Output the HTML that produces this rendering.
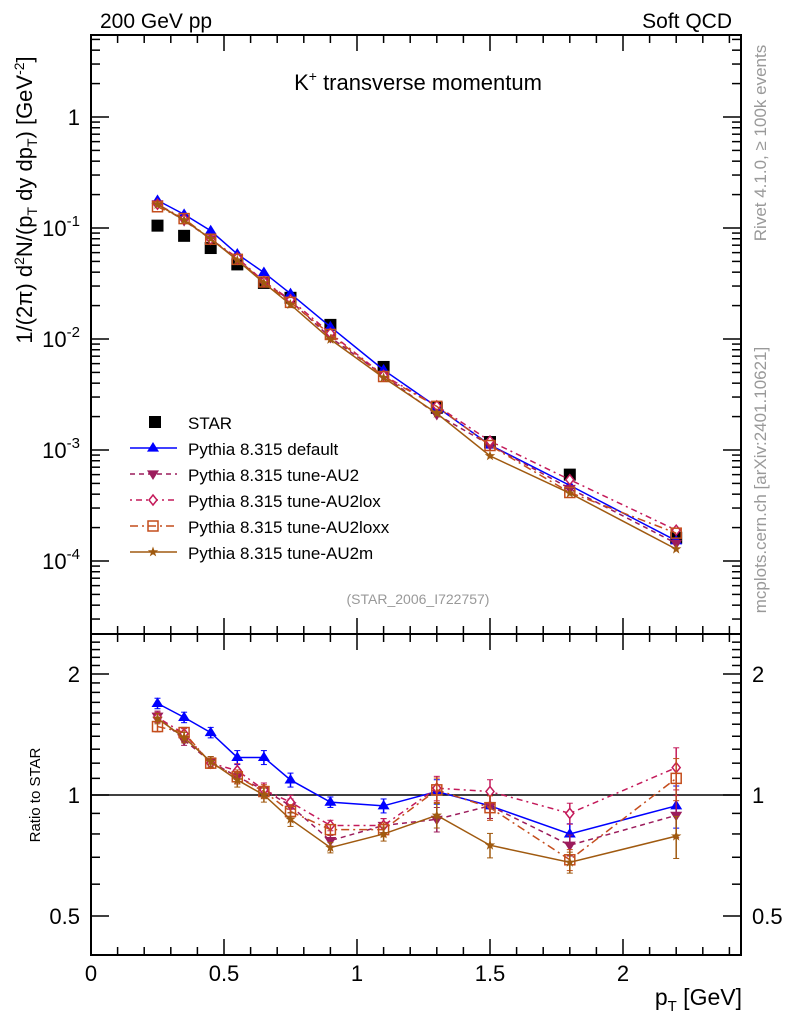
<!DOCTYPE html>
<html><head><meta charset="utf-8"><style>
html,body{margin:0;padding:0;background:#fff}
svg{display:block;font-family:"Liberation Sans",sans-serif}
</style></head><body>
<svg id="c" width="786" height="1024" viewBox="0 0 786 1024"></svg>
<script>
const xVals=[0.25,0.35,0.45,0.55,0.65,0.75,0.9,1.1,1.3,1.5,1.8,2.2];
const xErr=[0.05,0.05,0.05,0.05,0.05,0.05,0.1,0.1,0.1,0.1,0.2,0.2];
const starVals=[0.105,0.085,0.066,0.047,0.032,0.0235,0.0134,0.0056,0.0024,0.00118,0.00060,0.000162];
const rDefault=[1.69,1.56,1.43,1.24,1.24,1.09,0.96,0.94,1.02,0.94,0.80,0.94];
const rAU2=[1.57,1.37,1.21,1.11,1.03,0.94,0.77,0.84,0.87,0.94,0.75,0.89];
const rAU2lox=[1.56,1.42,1.20,1.15,1.03,0.96,0.84,0.84,1.04,1.02,0.90,1.17];
const rAU2loxx=[1.48,1.43,1.20,1.11,1.02,0.91,0.82,0.82,1.03,0.93,0.69,1.10];
const rAU2m=[1.55,1.39,1.21,1.09,1.00,0.87,0.74,0.80,0.89,0.75,0.68,0.79];
const rErr=[0.03,0.03,0.03,0.04,0.04,0.04,0.03,0.04,0.07,0.07,0.06,0.12];
const xTicks=[0,0.5,1,1.5,2];
const xTickLabels=["0","0.5","1","1.5","2"];
const yTicks=[1,0.1,0.01,0.001,0.0001];
const yTickLabels=[["1",""],["10","-1"],["10","-2"],["10","-3"],["10","-4"]];
const rTicks=[0.5,1,2];
const rTickLabels=["0.5","1","2"];

const L=91,R=741,T=35,M=634,B=955;
const sx=v=>L+266*v;
const sy=v=>117-111*Math.log10(v);
const sr=v=>795-402*Math.log10(v);
const svg=document.getElementById('c');
const NS='http://www.w3.org/2000/svg';
function mk(tag,at,txt){const e=document.createElementNS(NS,tag);for(const k in at)e.setAttribute(k,at[k]);if(txt!==undefined)e.textContent=txt;svg.appendChild(e);return e;}

let e=mk('rect',{x:L,y:T,width:R-L,height:M-T,fill:'none',stroke:'#000','stroke-width':2});

e=mk('rect',{x:L,y:M,width:R-L,height:B-M,fill:'none',stroke:'#000','stroke-width':2});


for(let v=0;v<=2.44;v+=0.1){const x=sx(v);const maj=Math.abs(v*2-Math.round(v*2))<1e-6;const h=maj?16:8;
 [[T,1],[M,-1],[M,1],[B,-1]].forEach(([y0,d])=>mk('line',{x1:x,x2:x,y1:y0,y2:y0+d*h,stroke:'#000','stroke-width':1.5}));}
xTicks.forEach((v,i)=>{e=mk('text',{x:sx(v),y:981,'font-size':22,'text-anchor':'middle'},xTickLabels[i]);
 });
for(let d=-5;d<=0;d++){for(let m=1;m<10;m++){const v=m*Math.pow(10,d);const y=sy(v);if(y<T||y>M)continue;const h=m==1?18:9;
 mk('line',{x1:L,x2:L+h,y1:y,y2:y,stroke:'#000','stroke-width':1.5});mk('line',{x1:R,x2:R-h,y1:y,y2:y,stroke:'#000','stroke-width':1.5});}}
yTicks.forEach((v,i)=>{const t=mk('text',{x:80,y:sy(v)+8,'font-size':22,'text-anchor':'end'});
 
 const a=document.createElementNS(NS,'tspan');a.textContent=yTickLabels[i][0];t.appendChild(a);
 if(yTickLabels[i][1]){const b=document.createElementNS(NS,'tspan');b.setAttribute('dy','-10');b.setAttribute('font-size','15');b.textContent=yTickLabels[i][1];t.appendChild(b);}});
for(let v=0.4;v<=2.5;v+=0.1){const y=sr(v);if(y<M||y>B)continue;const maj=[0.5,1,2].some(q=>Math.abs(q-v)<1e-6);const h=maj?18:9;
 mk('line',{x1:L,x2:L+h,y1:y,y2:y,stroke:'#000','stroke-width':1.5});mk('line',{x1:R,x2:R-h,y1:y,y2:y,stroke:'#000','stroke-width':1.5});}
rTicks.forEach((v,i)=>{e=mk('text',{x:80,y:sr(v)+8,'font-size':22,'text-anchor':'end'},rTickLabels[i]);
 e=mk('text',{x:752,y:sr(v)+8,'font-size':22},rTickLabels[i]);});
e=mk('line',{x1:L,x2:R,y1:sr(1),y2:sr(1),stroke:'#000','stroke-width':1.5});

function T_(x,y,s,a,txt,name,extra){const t=mk('text',Object.assign({x:x,y:y,'font-size':s,'text-anchor':a},extra||{}),txt);return t;}
T_(100,28,21,'start','200 GeV pp','header-left');
T_(732,28,21,'end','Soft QCD','header-right');
let tt=T_(418,90,22,'middle','','plot-title');tt.innerHTML='K<tspan dy="-9" font-size="14">+</tspan><tspan dy="9"> transverse momentum</tspan>';
T_(418,604,14,'middle','(STAR_2006_I722757)','analysis-id',{fill:'#999'});
let xt=T_(742,1005,23,'end','','x-axis-title');xt.innerHTML='p<tspan dy="6" font-size="15">T</tspan><tspan dy="-6"> [GeV]</tspan>';
T_(40,795,15,'middle','Ratio to STAR','ratio-y-title',{transform:'rotate(-90 40 795)'});
let yt=T_(32,200,22,'middle','','y-axis-title',{transform:'rotate(-90 32 200)'});
yt.innerHTML='1/(2π)   d<tspan dy="-8" font-size="14">2</tspan><tspan dy="8">N/(p</tspan><tspan dy="5" font-size="14">T</tspan><tspan dy="-5"> dy dp</tspan><tspan dy="5" font-size="14">T</tspan><tspan dy="-5">) [GeV</tspan><tspan dy="-8" font-size="14">-2</tspan><tspan dy="8">]</tspan>';
T_(766,143,17,'middle','Rivet 4.1.0, ≥ 100k events','rivet-label',{fill:'#999',transform:'rotate(-90 766 143)'});
T_(766,480,17,'middle','mcplots.cern.ch [arXiv:2401.10621]','mcplots-label',{fill:'#999',transform:'rotate(-90 766 480)'});

function marker(type,x,y,col){let m;const s=6;
 if(type=='sq')m=mk('rect',{x:x-6,y:y-6,width:12,height:12,fill:'#000'});
 else if(type=='tri')m=mk('polygon',{points:`${x},${y-s} ${x-s},${y+s*0.6} ${x+s},${y+s*0.6}`,fill:col});
 else if(type=='itri')m=mk('polygon',{points:`${x},${y+s} ${x-s},${y-s*0.6} ${x+s},${y-s*0.6}`,fill:col});
 else if(type=='dia')m=mk('polygon',{points:`${x},${y-5} ${x-4},${y} ${x},${y+5} ${x+4},${y}`,fill:'#fff',stroke:col,'stroke-width':1.5});
 else if(type=='osq')m=mk('rect',{x:x-5,y:y-5,width:10,height:10,fill:'none',stroke:col,'stroke-width':1.5});
 else {let p=[];for(let k=0;k<10;k++){const r=k%2?2.2:5.5,a=-Math.PI/2+k*Math.PI/5;p.push((x+r*Math.cos(a)).toFixed(1)+','+(y+r*Math.sin(a)).toFixed(1));}m=mk('polygon',{points:p.join(' '),fill:col});}
 return m;}

const series=[
 {name:'default',r:rDefault,col:'#0000ff',dash:'',mk:'tri',label:'Pythia 8.315 default'},
 {name:'au2',r:rAU2,col:'#9c1c5c',dash:'5,4',mk:'itri',label:'Pythia 8.315 tune-AU2'},
 {name:'au2lox',r:rAU2lox,col:'#c41a5a',dash:'2,4,6,4',mk:'dia',label:'Pythia 8.315 tune-AU2lox'},
 {name:'au2loxx',r:rAU2loxx,col:'#c44d1c',dash:'8,4,2,4',mk:'osq',label:'Pythia 8.315 tune-AU2loxx'},
 {name:'au2m',r:rAU2m,col:'#a05a10',dash:'',mk:'star',label:'Pythia 8.315 tune-AU2m'}];

xVals.forEach((x,i)=>{const m=marker('sq',sx(x),sy(starVals[i]));});

series.forEach(s=>{
 const pm=xVals.map((x,i)=>[sx(x),sy(starVals[i]*s.r[i])]);
 const pr=xVals.map((x,i)=>[sx(x),sr(s.r[i])]);
 let p=mk('polyline',{points:pm.map(q=>q.join(',')).join(' '),fill:'none',stroke:s.col,'stroke-width':1.5,'stroke-dasharray':s.dash});
 
 p=mk('polyline',{points:pr.map(q=>q.join(',')).join(' '),fill:'none',stroke:s.col,'stroke-width':1.5,'stroke-dasharray':s.dash});
 
 xVals.forEach((x,i)=>{
  const y1=sr(s.r[i]*(1+rErr[i])),y2=sr(s.r[i]*(1-rErr[i]));
  mk('line',{x1:sx(x),x2:sx(x),y1:y1,y2:y2,stroke:s.col,'stroke-width':1.5});
  mk('line',{x1:sx(x)-3,x2:sx(x)+3,y1:y1,y2:y1,stroke:s.col,'stroke-width':1});
  mk('line',{x1:sx(x)-3,x2:sx(x)+3,y1:y2,y2:y2,stroke:s.col,'stroke-width':1});
  let m=marker(s.mk,pm[i][0],pm[i][1],s.col);
  m=marker(s.mk,pr[i][0],pr[i][1],s.col);
 });
});

let lm=marker('sq',155,422);
T_(188,429,17,'start','STAR','legend-star-label');
series.forEach((s,i)=>{const y=448+i*26;
 let l=mk('line',{x1:130,x2:177,y1:y,y2:y,stroke:s.col,'stroke-width':1.5,'stroke-dasharray':s.dash});
 
 let m=marker(s.mk,153,y,s.col);
 T_(188,y+7,17,'start',s.label,'legend-'+s.name+'-label');});
</script>
</body></html>
